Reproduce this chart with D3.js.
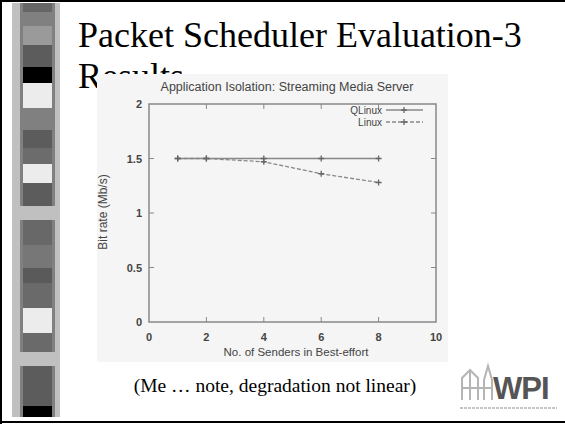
<!DOCTYPE html>
<html>
<script src="https://cdn.jsdelivr.net/npm/d3@7/dist/d3.min.js"></script>
<style>
  body, html { margin: 0; padding: 0; background: #fff; }
  svg { display: block; }
</style>
<body>
<svg width="565" height="424"></svg>
<script>

  // chart data
  var senders = [1, 2, 4, 6, 8];
  var qlinux = [1.5, 1.5, 1.5, 1.5, 1.5];
  var linux = [1.5, 1.5, 1.47, 1.36, 1.28];
  var seriesNames = ['QLinux', 'Linux'];
  var xTicks = [0, 2, 4, 6, 8, 10];
  var yTicks = [0, 0.5, 1, 1.5, 2];

  // decorative strip on the left of the slide: [top, bottom, grey]
  var stripBlocks = [
    [3, 12, '#666'], [26, 45, '#9a9a9a'], [45, 67, '#5c5c5c'], [67, 83, '#000'],
    [83, 108, '#ececec'], [130, 148, '#5c5c5c'], [148, 164, '#6c6c6c'],
    [164, 183, '#ececec'], [183, 206, '#5c5c5c'], [206, 220, '#c0c0c0'],
    [220, 245, '#686868'], [245, 268, '#777'], [268, 283, '#5a5a5a'],
    [283, 308, '#6a6a6a'], [308, 333, '#ececec'], [333, 352, '#6a6a6a'],
    [352, 366, '#c0c0c0'], [366, 406, '#5c5c5c'], [406, 417, '#000']
  ];

  var svg = d3.select('svg');

  // slide frame
  svg.append('rect').attr('x', 0).attr('y', 0).attr('width', 565).attr('height', 2).attr('fill', '#000');
  svg.append('rect').attr('x', 0).attr('y', 0).attr('width', 2).attr('height', 424).attr('fill', '#000');
  svg.append('rect').attr('x', 0).attr('y', 421).attr('width', 565).attr('height', 2).attr('fill', '#000');

  var strip = svg.append('g');
  strip.append('rect').attr('x', 12).attr('y', 3).attr('width', 48).attr('height', 414).attr('fill', '#c0c0c0');
  strip.append('rect').attr('x', 20).attr('y', 3).attr('width', 35).attr('height', 414).attr('fill', '#808080');
  strip.selectAll('rect.block').data(stripBlocks).enter().append('rect')
    .attr('class', 'block')
    .attr('x', function (d) { return d[2] === '#c0c0c0' ? 12 : 23; })
    .attr('width', function (d) { return d[2] === '#c0c0c0' ? 48 : 29; })
    .attr('y', function (d) { return d[0]; })
    .attr('height', function (d) { return d[1] - d[0]; })
    .attr('fill', function (d) { return d[2]; });

  // slide title
  var serif = '"Liberation Serif", "Times New Roman", serif';
  svg.append('text').attr('x', 78).attr('y', 47)
    .attr('font-family', serif).attr('font-size', 36).attr('fill', '#000')
    .text('Packet Scheduler Evaluation-3');
  svg.append('text').attr('x', 78).attr('y', 88)
    .attr('font-family', serif).attr('font-size', 36).attr('fill', '#000')
    .text('Results');

  // pasted chart image
  var img = svg.append('g');
  img.append('rect').attr('x', 97).attr('y', 74).attr('width', 351).attr('height', 288).attr('fill', '#f5f5f5');

  var x = d3.scaleLinear().domain([0, 10]).range([149, 436]);
  var y = d3.scaleLinear().domain([0, 2]).range([322, 104]);
  var sans = '"Liberation Sans", Arial, sans-serif';
  var ink = '#444';

  img.append('text').attr('x', 287).attr('y', 91).attr('text-anchor', 'middle')
    .attr('font-family', sans).attr('font-size', 12.5).attr('fill', ink)
    .text('Application Isolation: Streaming Media Server');

  // border with gnuplot style inward ticks
  img.append('rect').attr('x', x(0)).attr('y', y(2))
    .attr('width', x(10) - x(0)).attr('height', y(0) - y(2))
    .attr('fill', 'none').attr('stroke', '#888').attr('stroke-width', 1.5);

  var tickLen = 5;
  img.selectAll('line.xt').data(xTicks.slice(1, -1)).enter().append('line')
    .attr('x1', function (d) { return x(d); }).attr('x2', function (d) { return x(d); })
    .attr('y1', y(0)).attr('y2', y(0) - tickLen).attr('stroke', '#888');
  img.selectAll('line.xt2').data(xTicks.slice(1, -1)).enter().append('line')
    .attr('x1', function (d) { return x(d); }).attr('x2', function (d) { return x(d); })
    .attr('y1', y(2)).attr('y2', y(2) + tickLen).attr('stroke', '#888');
  img.selectAll('line.yt').data(yTicks.slice(1, -1)).enter().append('line')
    .attr('x1', x(0)).attr('x2', x(0) + tickLen)
    .attr('y1', function (d) { return y(d); }).attr('y2', function (d) { return y(d); }).attr('stroke', '#888');
  img.selectAll('line.yt2').data(yTicks.slice(1, -1)).enter().append('line')
    .attr('x1', x(10)).attr('x2', x(10) - tickLen)
    .attr('y1', function (d) { return y(d); }).attr('y2', function (d) { return y(d); }).attr('stroke', '#888');

  img.selectAll('text.xl').data(xTicks).enter().append('text')
    .attr('x', function (d) { return x(d); }).attr('y', y(0) + 19)
    .attr('text-anchor', 'middle').attr('font-family', sans).attr('font-size', 11)
    .attr('font-weight', 'bold').attr('fill', ink)
    .text(function (d) { return d; });
  img.selectAll('text.yl').data(yTicks).enter().append('text')
    .attr('x', x(0) - 7).attr('y', function (d) { return y(d) + 4; })
    .attr('text-anchor', 'end').attr('font-family', sans).attr('font-size', 11)
    .attr('font-weight', 'bold').attr('fill', ink)
    .text(function (d) { return d; });

  img.append('text').attr('x', 296).attr('y', 356).attr('text-anchor', 'middle')
    .attr('font-family', sans).attr('font-size', 11.5).attr('fill', ink)
    .text('No. of Senders in Best-effort');
  img.append('text').attr('transform', 'translate(107,212) rotate(-90)')
    .attr('text-anchor', 'middle').attr('font-family', sans).attr('font-size', 12).attr('fill', ink)
    .text('Bit rate (Mb/s)');

  var line = d3.line()
    .x(function (d) { return x(d[0]); })
    .y(function (d) { return y(d[1]); });

  var series = [
    { name: seriesNames[0], values: d3.zip(senders, qlinux), dash: null },
    { name: seriesNames[1], values: d3.zip(senders, linux), dash: '4,2' }
  ];

  series.forEach(function (s, i) {
    img.append('path').datum(s.values).attr('d', line)
      .attr('fill', 'none').attr('stroke', '#888').attr('stroke-width', 1.3)
      .attr('stroke-dasharray', s.dash);
    img.selectAll('path.m' + i).data(s.values).enter().append('path')
      .attr('d', 'M-3,0H3M0,-3V3')
      .attr('transform', function (d) { return 'translate(' + x(d[0]) + ',' + y(d[1]) + ')'; })
      .attr('stroke', '#666').attr('stroke-width', 1.3);

    // legend entry
    var ly = 110 + i * 12;
    img.append('text').attr('x', 382).attr('y', ly + 3.5).attr('text-anchor', 'end')
      .attr('font-family', sans).attr('font-size', 10).attr('fill', ink).text(s.name);
    img.append('line').attr('x1', 386).attr('x2', 423).attr('y1', ly).attr('y2', ly)
      .attr('stroke', '#888').attr('stroke-width', 1.3).attr('stroke-dasharray', s.dash);
    img.append('path').attr('d', 'M-3,0H3M0,-3V3')
      .attr('transform', 'translate(404,' + ly + ')').attr('stroke', '#666').attr('stroke-width', 1.3);
  });

  // caption
  svg.append('text').attr('x', 275).attr('y', 392).attr('text-anchor', 'middle')
    .attr('font-family', serif).attr('font-size', 19.5).attr('fill', '#000')
    .text('(Me \u2026 note, degradation not linear)');

  // WPI logo
  var logo = svg.append('g').attr('transform', 'translate(460,364)');
  logo.append('path')
    .attr('d', 'M2,36V14L10,6L18,14V36M10,6V36M24,36V16L28,2L32,16V36M2,24H32')
    .attr('fill', 'none').attr('stroke', '#b5b5b5').attr('stroke-width', 2);
  logo.append('text').attr('x', 33).attr('y', 35)
    .attr('font-family', sans).attr('font-size', 31).attr('font-weight', 'bold')
    .attr('fill', '#555').attr('letter-spacing', -1).text('WPI');
  logo.append('line').attr('x1', 0).attr('x2', 97).attr('y1', 44).attr('y2', 44)
    .attr('stroke', '#c5c5c5').attr('stroke-width', 2).attr('stroke-dasharray', '3,1');

</script>
</body>
</html>
